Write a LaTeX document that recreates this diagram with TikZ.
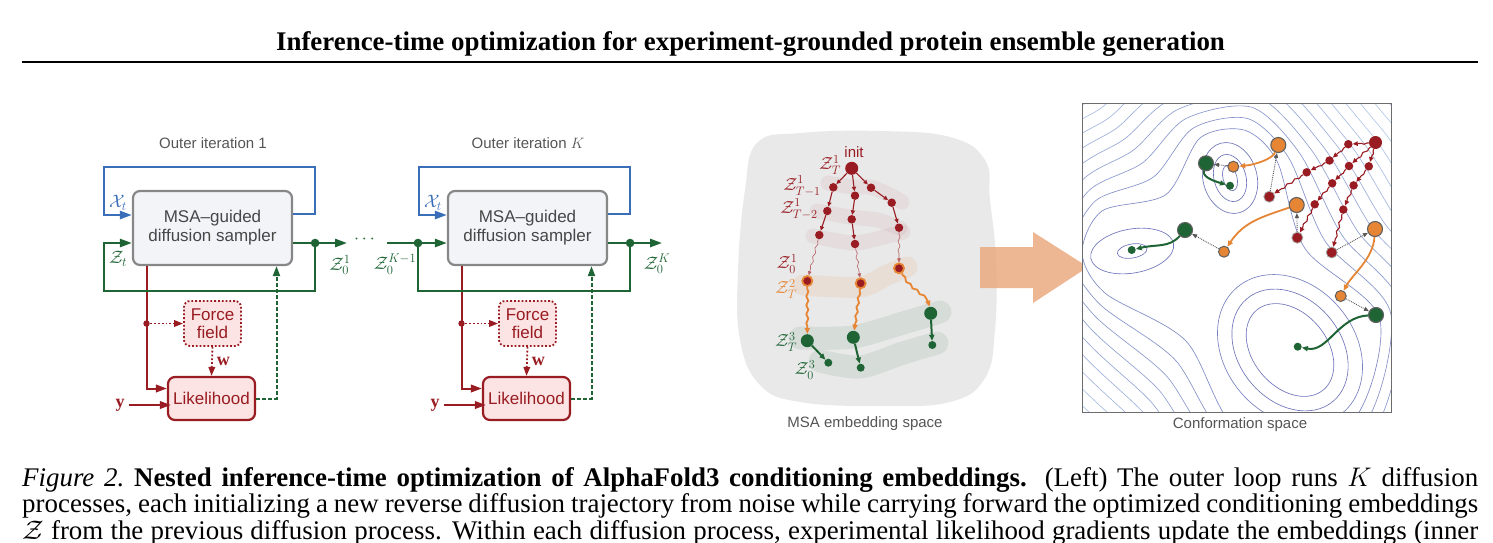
\documentclass[tikz,border=0pt]{standalone}
\usepackage{fix-cm}
\usepackage{fontspec}
\setmainfont{Liberation Serif}
\setsansfont{Liberation Sans}
\usepackage{amsmath}
\usepackage{amssymb}
\usepackage{bm}
\usetikzlibrary{positioning,calc,arrows.meta,decorations.pathmorphing}

\definecolor{blueline}{RGB}{58,110,184}
\definecolor{greenline}{RGB}{30,100,52}
\definecolor{redline}{RGB}{152,28,34}
\definecolor{pinkfill}{RGB}{253,228,228}
\definecolor{boxfill}{RGB}{243,244,248}
\definecolor{boxedge}{RGB}{135,135,135}
\definecolor{orangeline}{RGB}{230,133,52}
\definecolor{arrowfill}{RGB}{234,170,128}
\definecolor{blobfill}{RGB}{233,233,233}
\definecolor{labelgray}{RGB}{85,85,85}
\definecolor{contourin}{RGB}{110,116,185}
\definecolor{contourout}{RGB}{178,200,234}

\begin{document}
\begin{tikzpicture}[x=1pt,y=-1pt,
  lbl/.style={font=\sffamily\fontsize{15}{17}\selectfont, text=labelgray},
  mathlbl/.style={font=\fontsize{18}{20}\selectfont, inner sep=0pt},
  msalbl/.style={font=\fontsize{17.5}{19}\selectfont, inner sep=0pt},
  capline/.style={anchor=base west, inner sep=0pt, font=\fontsize{26.9}{26.5}\selectfont},
  sampler/.style={draw=boxedge, fill=boxfill, line width=2.2pt, rounded corners=7pt,
    minimum width=159pt, minimum height=74pt, align=center, text=black!72,
    font=\sffamily\fontsize{17}{19}\selectfont},
  forcebox/.style={draw=redline, fill=pinkfill, line width=1.8pt, dotted, rounded corners=6pt,
    minimum width=57pt, minimum height=45pt, align=center, text=redline,
    font=\sffamily\fontsize{17}{18}\selectfont},
  likbox/.style={draw=redline, fill=pinkfill, line width=2.2pt, rounded corners=7pt,
    minimum width=87pt, minimum height=43pt, text=redline,
    font=\sffamily\fontsize{17}{19}\selectfont},
  blueflow/.style={draw=blueline, line width=2.4pt, -{Triangle[length=12pt,width=8pt]}},
  greenflow/.style={draw=greenline, line width=2.4pt, -{Triangle[length=12pt,width=8pt]}},
  greendash/.style={draw=greenline, line width=2pt, dash pattern=on 3.5pt off 2.5pt,
    -{Triangle[length=10pt,width=7pt]}},
  redflow/.style={draw=redline, line width=2pt, -{Triangle[length=11pt,width=7.5pt]}},
  reddot/.style={draw=redline, line width=1.8pt, dotted, -{Triangle[length=9pt,width=6.5pt]}},
  wavy/.style={decorate, decoration={snake, amplitude=1pt, segment length=9pt,
    pre length=2pt, post length=5pt}},
  msastep/.style={draw=redline, line width=1.1pt, -{Triangle[length=4.5pt,width=4pt]}},
  msathin/.style={draw=redline!70, line width=0.6pt, wavy, -{Triangle[length=4pt,width=3.5pt]}},
  msaorange/.style={draw=orangeline, line width=1.8pt, wavy, -{Triangle[length=6pt,width=5pt]}},
  msagreen/.style={draw=greenline, line width=2pt, -{Triangle[length=6pt,width=5pt]}},
  redband/.style={draw=redline, opacity=0.06, line width=15pt, line cap=round},
  orangeband/.style={draw=orangeline, opacity=0.1, line width=21pt, line cap=round},
  greenband/.style={draw=greenline, opacity=0.09, line width=23pt, line cap=round},
  dotroot/.style={circle, fill=redline, minimum size=13pt, inner sep=0pt},
  dotred/.style={circle, fill=redline, minimum size=8.5pt, inner sep=0pt},
  dotrim/.style={circle, fill=redline, draw=orangeline, line width=1.8pt, minimum size=10pt, inner sep=0pt},
  dotgreenbig/.style={circle, fill=greenline, minimum size=13pt, inner sep=0pt},
  dotgreen/.style={circle, fill=greenline, minimum size=8pt, inner sep=0pt},
  cendred/.style={circle, fill=redline, draw=gray!70, line width=0.8pt, minimum size=11pt, inner sep=0pt},
  cbigorange/.style={circle, fill=orangeline, draw=gray!75!black, line width=1.1pt, minimum size=15pt, inner sep=0pt},
  csmallorange/.style={circle, fill=orangeline, draw=gray!75!black, line width=1pt, minimum size=11pt, inner sep=0pt},
  cbiggreen/.style={circle, fill=greenline, draw=gray!75!black, line width=1.1pt, minimum size=15pt, inner sep=0pt},
  cstep/.style={draw=redline, line width=1.1pt, wavy, -{Triangle[length=5pt,width=4.5pt]}},
  ghost/.style={draw=gray!70!black, line width=0.9pt, densely dotted, -{Triangle[length=5pt,width=4pt]}},
  corange/.style={draw=orangeline, line width=1.8pt, -{Triangle[length=6pt,width=5pt]}},
  cgreen/.style={draw=greenline, line width=2pt, -{Triangle[length=6pt,width=5pt]}},
  ring/.style={line width=0.65pt, draw=contourin},
  contour/.style={line width=0.65pt}]
\useasboundingbox (0,0) rectangle (1493,542);
\clip (0,0) rectangle (1493,542);

% running head
\node[anchor=base, inner sep=0pt] (head) at (750.5,50)
  {\fontsize{26.9}{28}\selectfont\bfseries Inference-time optimization for experiment-grounded protein ensemble generation};
\draw[line width=2.4pt] (22,62) -- (1478,62);

% two outer iterations
\foreach \n/\dx/\itertext in {1/0/1, K/315/$K$}{
  \begin{scope}[xshift=\dx pt]
    \node[lbl] (iter\n) at (213,143) {Outer iteration \itertext};
    \node[sampler] (samp\n) at (212.5,228) {MSA--guided\\diffusion sampler};
    \node[forcebox] (force\n) at (212.5,323.5) {Force\\field};
    \node[likbox] (lik\n) at (211.5,398.5) {Likelihood};
    \draw[blueflow] ([yshift=14pt]samp\n.east) -- ++(22,0) -- ++(0,-47) -- ++(-211,0)
      |- ([yshift=13pt]samp\n.west);
    \node[mathlbl, text=blueline] (xt\n) at (118,203) {$\mathcal{X}_t$};
    \draw[greenflow] ([yshift=-15pt]samp\n.east) -- ++(22,0) coordinate (split\n) -- ++(32,0);
    \fill[greenline] (split\n) circle (4.3);
    \path ([xshift=-66pt]samp\n.south) |- coordinate (tap\n) (force\n.west);
    \draw[redflow] ([xshift=-66pt]samp\n.south) |- ([yshift=10pt]lik\n.west);
    \fill[redline] (tap\n) circle (3.2);
    \draw[reddot] (tap\n) -- (force\n.west);
    \draw[reddot] (force\n.south) -- (lik\n.north)
      node[midway, right=4pt, mathlbl, text=redline] {$\mathbf{w}$};
    \node[mathlbl, text=redline] (y\n) at (120,405) {$\mathbf{y}$};
    \draw[redflow] ([xshift=4pt]y\n.east) -- ([xshift=4pt]y\n.east -| lik\n.west);
    \draw[greendash] (lik\n.east) -| ([xshift=64pt]samp\n.south);
  \end{scope}
}
\draw[greenflow] (split1) -- ++(0,48) -- ++(-211,0) |- ([yshift=-15pt]samp1.west);
\node[mathlbl, text=greenline] (zt) at (118,259) {$\mathcal{Z}_t$};
\node[mathlbl, text=greenline] (zone) at (340,265) {$\mathcal{Z}_0^1$};
\node[mathlbl, text=greenline] (dots) at (366,239) {$\cdots$};
\coordinate (dotsend) at (387,243);
\coordinate (joinK) at (418,243);
\draw[greenline, line width=2.4pt] (splitK) -- ++(0,48) -| (joinK);
\draw[greenflow] (dotsend) -- (joinK) -- ([yshift=-15pt]sampK.west);
\fill[greenline] (joinK) circle (4.3);
\node[mathlbl, text=greenline] (zkm) at (395,264) {$\mathcal{Z}_0^{K-1}$};
\node[mathlbl, text=greenline] (zk) at (657,264) {$\mathcal{Z}_0^K$};

% MSA embedding space
\fill[blobfill] plot[smooth cycle, tension=0.7] coordinates {
  (757,143) (800,133) (880,131) (950,137) (985,160) (990,200) (996,260) (995,330)
  (985,378) (950,402) (880,406) (800,402) (760,385) (740,340) (738,270) (745,190)};
\draw[redband] plot[smooth] coordinates {(828,183) (853,187) (870,187) (890,195) (902,202)};
\draw[redband] plot[smooth] coordinates {(817,211) (850,217) (877,220) (900,228)};
\draw[redband] plot[smooth] coordinates {(813,236) (853,243) (880,238) (903,232)};
\draw[orangeband] plot[smooth] coordinates {(803,285) (860,287) (887,275) (907,267)};
\draw[greenband] plot[smooth] coordinates {(800,338) (853,337) (903,323) (940,312)};
\draw[greenband] plot[smooth] coordinates {(820,361) (860,367) (903,353) (937,343)};
\node[dotroot] (m0) at (851.7,168.3) {};
\node[dotred] (m11) at (833.3,187.3) {};
\node[dotred] (m21) at (855,195.7) {};
\node[dotred] (m31) at (871,187.7) {};
\node[dotred] (m12) at (827.3,211) {};
\node[dotred] (m22) at (851.7,219.3) {};
\node[dotred] (m32) at (891.7,202.7) {};
\node[dotred] (m13) at (819.3,235) {};
\node[dotred] (m23) at (855,244) {};
\node[dotred] (m33) at (899,227.7) {};
\node[dotrim] (m14) at (807.3,281) {};
\node[dotrim] (m24) at (860.7,283.3) {};
\node[dotrim] (m34) at (899,268.3) {};
\node[dotgreenbig] (m15) at (807.3,340.7) {};
\node[dotgreenbig] (m25) at (853.3,337.3) {};
\node[dotgreenbig] (m35) at (930.7,313.3) {};
\node[dotgreen] (m16) at (828.3,362.7) {};
\node[dotgreen] (m26) at (860.7,367.7) {};
\node[dotgreen] (m36) at (932.3,345) {};
\foreach \c in {1,2,3}{
  \draw[msastep] (m0) -- (m\c1);
  \draw[msastep] (m\c1) -- (m\c2);
  \draw[msastep] (m\c2) -- (m\c3);
  \draw[msathin] (m\c3) -- (m\c4);
  \draw[msagreen] (m\c5) -- (m\c6);
}
\draw[msaorange] (m14) -- (m15);
\draw[msaorange] (m24) -- (m25);
\draw[msaorange] (m34) .. controls +(12,22) and +(-4,-22) .. (m35);
\node[font=\sffamily\fontsize{15}{17}\selectfont, text=redline] (init) at (854,152) {init};
\node[msalbl, text=redline] (lzt) at (830,165) {$\mathcal{Z}_T^1$};
\node[msalbl, text=redline] (lzt1) at (802,186) {$\mathcal{Z}_{T-1}^1$};
\node[msalbl, text=redline] (lzt2) at (799,209) {$\mathcal{Z}_{T-2}^1$};
\node[msalbl, text=redline] (lz0) at (787,264) {$\mathcal{Z}_0^1$};
\node[msalbl, text=orangeline] (lzt2b) at (786,289) {$\mathcal{Z}_T^2$};
\node[msalbl, text=greenline] (lzt3) at (786,342) {$\mathcal{Z}_T^3$};
\node[msalbl, text=greenline] (lz03) at (805,370) {$\mathcal{Z}_0^3$};
\node[lbl] (msa) at (865,424) {MSA embedding space};

% big arrow
\fill[arrowfill, opacity=0.85] (980,247) -- (1033,247) -- (1033,232) -- (1088,267)
  -- (1033,303) -- (1033,288) -- (980,288) -- cycle;

% conformation space
\node[minimum width=308pt, minimum height=308pt, inner sep=0pt] (conf) at (1237,258) {};
\coordinate (kA) at (1132,251);
\coordinate (kB) at (1230,178);
\coordinate (kC) at (1290,350);
\coordinate (kAB) at ($(kA)!0.5!(kB)$);
\coordinate (kBC) at ($(kB)!0.5!(kC)$);
\coordinate (kCA) at ($(kC)!0.5!(kA)$);
\begin{scope}
  \clip (conf.south west) rectangle (conf.north east);
  \fill[white] (conf.south west) rectangle (conf.north east);
  \draw[ring, rotate around={10:(kA)}] (kA) ellipse (15 and 7);
  \draw[ring, rotate around={10:(kA)}] (kA) ellipse (42 and 22);
  \draw[ring, rotate around={15:(kB)}] (kB) ellipse (7 and 13);
  \draw[ring, rotate around={15:(kB)}] (kB) ellipse (16 and 24);
  \draw[ring, rotate around={15:(kB)}] (kB) ellipse (27 and 36);
  \draw[ring, rotate around={-50:(kC)}] (kC) ellipse (52 and 37);
  \draw[ring, rotate around={-50:(kC)}] (kC) ellipse (67 and 51);
  \draw[ring, draw=contourin!85!contourout, rotate around={-50:(kC)}] (kC) ellipse (82 and 65);
  \foreach \d in {50,62,...,302}{
    \pgfmathsetmacro\rC{\d+45}
    \pgfmathsetmacro\rw{\d-25*exp(-(\d-50)/25)}
    \pgfmathsetmacro\rm{\d+22.5-25*exp(-(\d-50)/25)}
    \pgfmathtruncatemacro\mix{max(0,75-(\d-50)*0.75)}
    \draw[contour, draw=contourin!\mix!contourout] plot[smooth cycle] coordinates {
      ($(kA)+(122.1:\d)$) ($(kA)+(177.7:\d)$) ($(kA)+(233.3:\d)$) ($(kAB)+(233.3:\rw)$)
      ($(kB)+(233.3:\d)$) ($(kB)+(287:\d)$) ($(kB)+(340.8:\d)$) ($(kBC)+(340.8:\rm)$)
      ($(kC)+(340.8:\rC)$) ($(kC)+(51.4:\rC)$) ($(kC)+(122.1:\rC)$) ($(kCA)+(122.1:\rm)$)};
  }
\end{scope}
\draw[boxedge!80!black, line width=1.3pt] (conf.south west) rectangle (conf.north east);

\node[dotroot] (c0) at (1375.5,142.5) {};
\node[dotred] (c11) at (1348.3,144.2) {};
\node[dotred] (c12) at (1329.5,160.5) {};
\node[dotred] (c13) at (1306.7,172.3) {};
\node[cendred] (c14) at (1269.3,196.7) {};
\node[dotred] (c21) at (1349,166) {};
\node[dotred] (c22) at (1332.2,183.3) {};
\node[dotred] (c23) at (1314.7,204.3) {};
\node[cendred] (c24) at (1297.3,237.7) {};
\node[dotred] (c31) at (1368.8,166.3) {};
\node[dotred] (c32) at (1353.6,185.4) {};
\node[dotred] (c33) at (1343.3,209.6) {};
\node[cendred] (c34) at (1331.7,252.5) {};
\node[cbigorange] (o1) at (1278.3,145) {};
\node[cbigorange] (o2) at (1296.7,205) {};
\node[cbigorange] (o3) at (1375,229) {};
\node[csmallorange] (s1) at (1233.3,166.7) {};
\node[csmallorange] (s2) at (1224,251.7) {};
\node[csmallorange] (s3) at (1340.7,296) {};
\node[cbiggreen] (g1) at (1206,163.3) {};
\node[cbiggreen] (g2) at (1185,230) {};
\node[cbiggreen] (g3) at (1376,315) {};
\node[dotgreen] (e1) at (1230,185.7) {};
\node[dotgreen] (e2) at (1131.7,250) {};
\node[dotgreen] (e3) at (1297.7,346.7) {};
\foreach \c in {1,2,3}{
  \draw[cstep] (c0) -- (c\c1);
  \draw[cstep] (c\c1) -- (c\c2);
  \draw[cstep] (c\c2) -- (c\c3);
  \draw[cstep] (c\c3) -- (c\c4);
  \draw[ghost] (c\c4) -- (o\c);
  \draw[ghost] (s\c) -- (g\c);
}
\draw[corange] (o1) .. controls +(-6,14) and +(22,-2) .. (s1);
\draw[corange] (o2) .. controls +(-35,12) and +(20,-30) .. (s2);
\draw[corange] (o3) .. controls +(-2,30) and +(12,-22) .. (s3);
\draw[cgreen] (g1) .. controls +(-4,14) and +(-14,-4) .. (e1);
\draw[cgreen] (g2) .. controls +(-16,18) and +(25,-6) .. (e2);
\draw[cgreen] (g3) .. controls +(-38,2) and +(30,6) .. (e3);
\node[lbl] (confl) at (1240,425) {Conformation space};

% caption
\node[capline] (cap1) at (22,486) {\makebox[1456pt][s]{\textit{Figure 2.}\ \textbf{Nested inference-time optimization of AlphaFold3 conditioning embeddings.} (Left) The outer loop runs $K$ diffusion}};
\node[capline] (cap2) at (22,512.5) {\makebox[1456pt][s]{processes, each initializing a new reverse diffusion trajectory from noise while carrying forward the optimized conditioning embeddings}};
\node[capline] (cap3) at (22,539) {\makebox[1456pt][s]{$\mathcal{Z}$ from the previous diffusion process. Within each diffusion process, experimental likelihood gradients update the embeddings (inner}};
\end{tikzpicture}
\end{document}
